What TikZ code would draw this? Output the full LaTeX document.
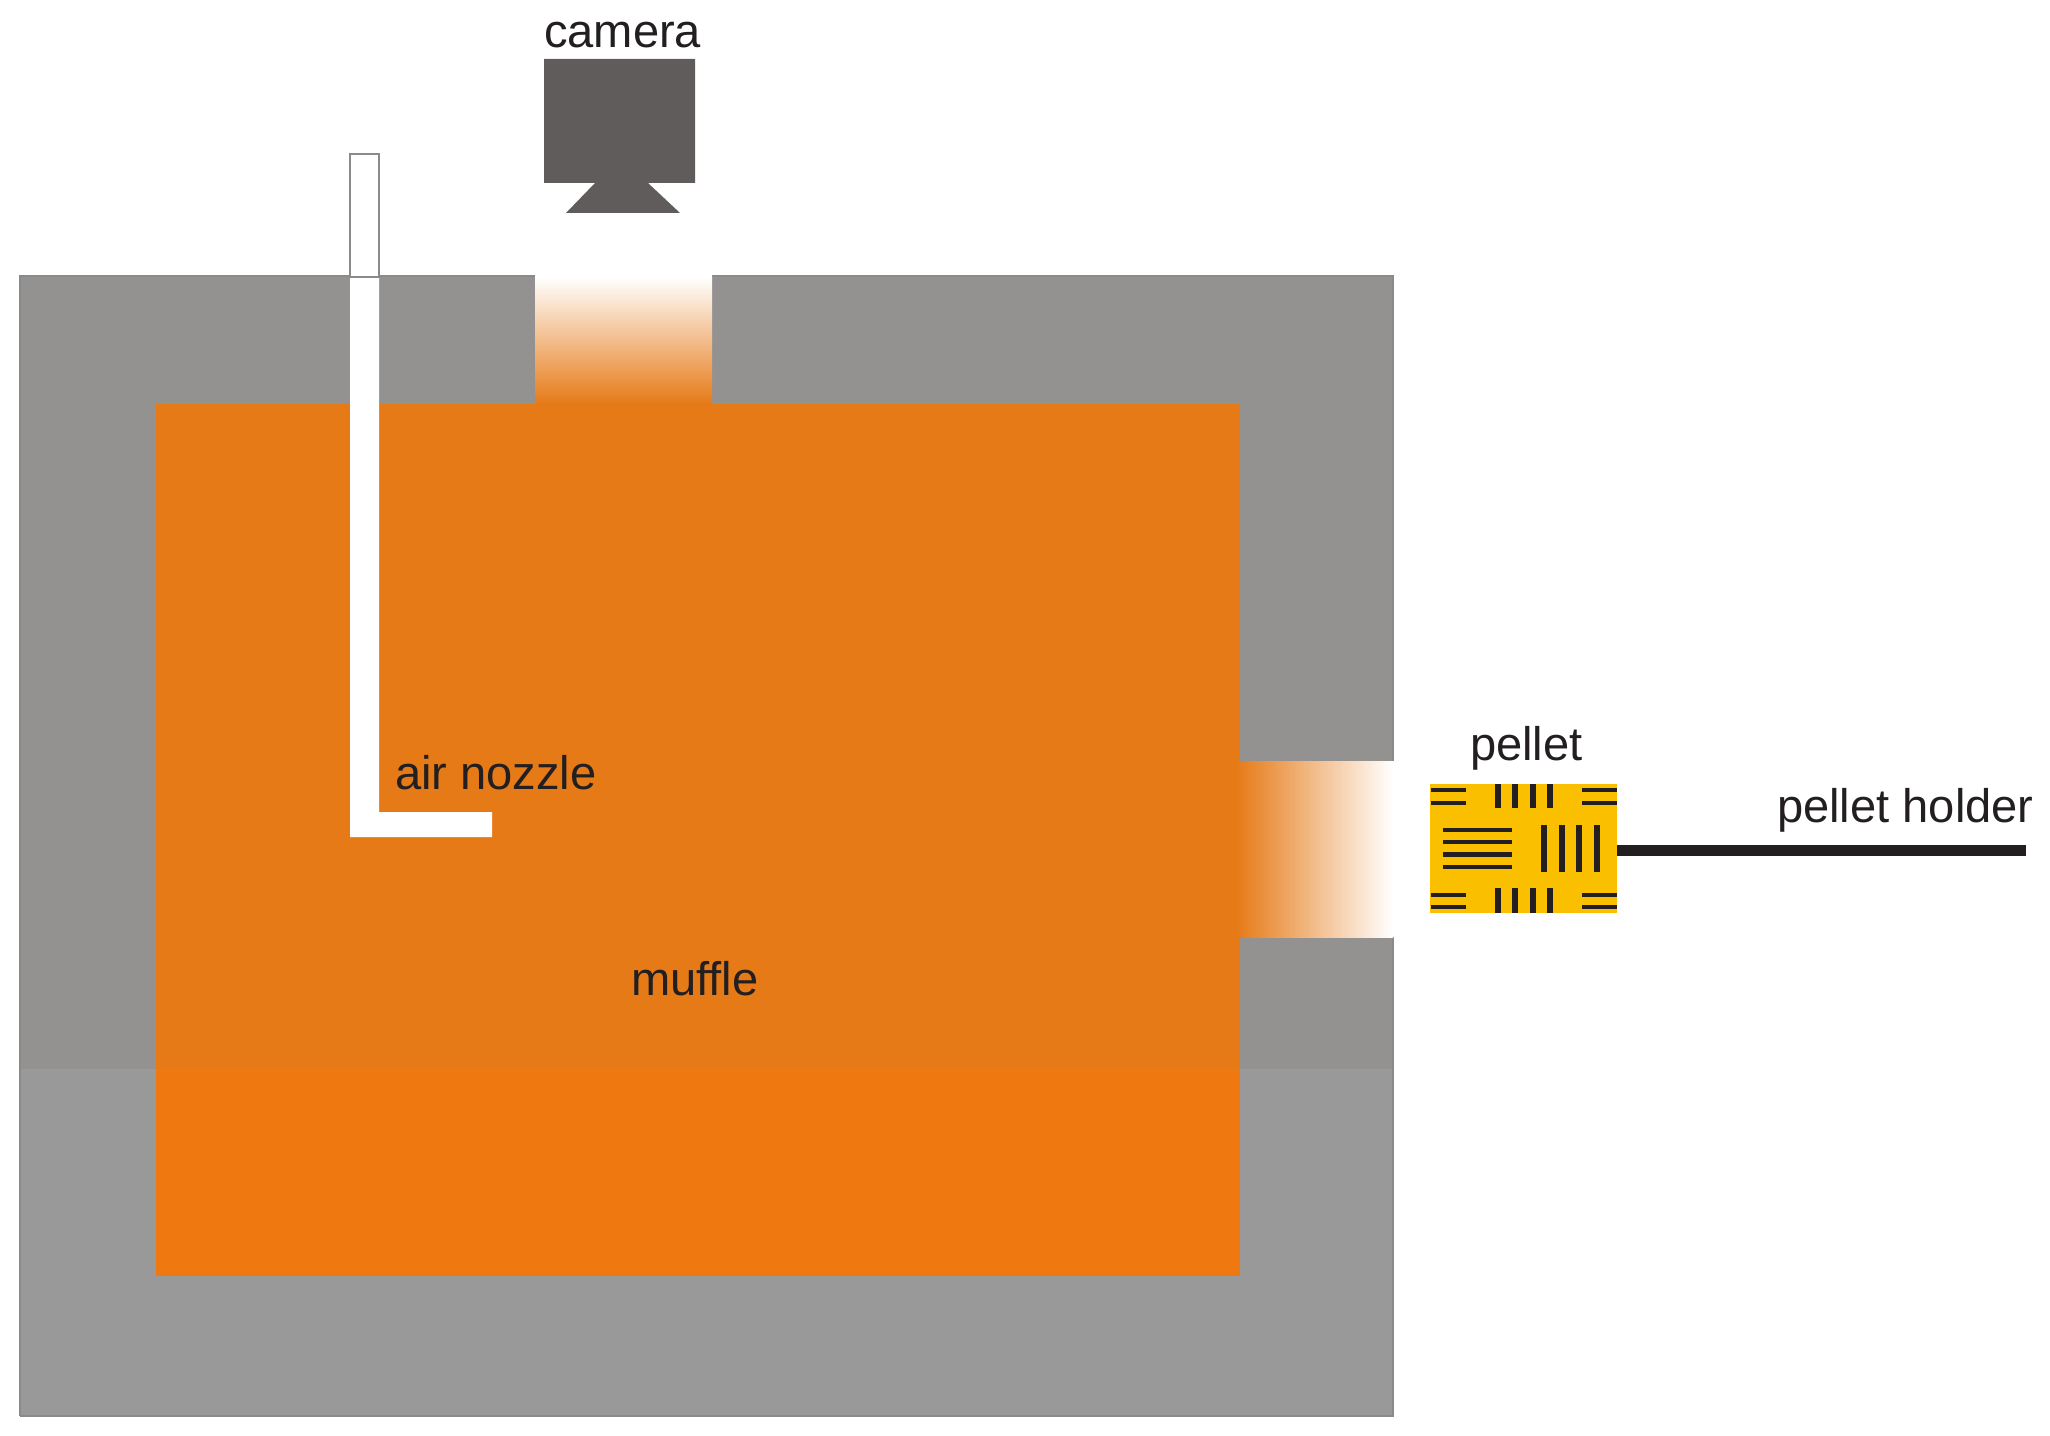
\documentclass[tikz,border=0pt]{standalone}
\usepackage{fontspec}
\setmainfont{Liberation Sans}
\definecolor{wallup}{HTML}{939291}
\definecolor{walllow}{HTML}{999999}
\definecolor{fireup}{HTML}{E67A17}
\definecolor{firelow}{HTML}{F07810}
\definecolor{camgrey}{HTML}{5F5C5B}
\definecolor{pelletyellow}{HTML}{FAC000}
\definecolor{inkdark}{HTML}{231F20}
\definecolor{nozzleedge}{HTML}{8A8A8A}
\tikzset{
  x=0.05cm,y=-0.05cm,
  lbl/.style={inner sep=0pt,anchor=base west,text=inkdark,font=\fontsize{67}{71}\selectfont},
  vbar/.style={inkdark,line width=0.29cm},
  hbar/.style={inkdark,line width=0.21cm},
  pelletbox/.style={fill=pelletyellow,inner sep=0pt,minimum width=9.35cm,minimum height=6.45cm},
  holderline/.style={draw=inkdark,line width=0.56cm},
}
\begin{document}
\begin{tikzpicture}
\useasboundingbox (0,0) rectangle (2050,1436);
% furnace wall
\fill[wallup] (20,276) rectangle (1393,1069);
\fill[walllow] (20,1069) rectangle (1393,1416);
\draw[nozzleedge,line width=0.08cm] (20,1416) -- (20,276) -- (535,276);
\draw[nozzleedge,line width=0.08cm] (712,276) -- (1393,276) -- (1393,761);
\draw[nozzleedge,line width=0.08cm] (1393,937) -- (1393,1416) -- (20,1416);
% muffle
\fill[fireup] (156,404) rectangle (1240,1069);
\fill[firelow] (156,1069) rectangle (1240,1276);
% openings
\fill[white] (535,270) rectangle (712,277);
\shade[top color=white,bottom color=fireup] (535,277) rectangle (712,404);
\shade[left color=fireup,right color=white] (1236,761) rectangle (1393,937);
\fill[white] (1392.5,761) rectangle (1394,937);
% air nozzle
\fill[white] (350,277) -- (379,277) -- (379,812) -- (492,812) -- (492,837) -- (350,837) -- cycle;
\draw[nozzleedge,line width=0.1cm,fill=white] (350,277) -- (350,154) -- (379,154) -- (379,277) -- cycle;
% camera
\fill[camgrey] (544,59) -- (695,59) -- (695,183) -- (648,183) -- (680,213) -- (566,213) -- (595,183) -- (544,183) -- cycle;
% pellet
\node[pelletbox] (pellet) at (1523.5,848.5) {};
\coordinate (holderend) at (2026,850.5);
\draw[holderline] (pellet.east |- holderend) -- (holderend);
\foreach \yy in {790,803,895,907} {
  \draw[hbar] (1431,\yy) -- (1466,\yy);
  \draw[hbar] (1582,\yy) -- (1617,\yy);
}
\foreach \xx in {1498,1515,1533,1550} {
  \draw[vbar] (\xx,784) -- (\xx,808);
  \draw[vbar] (\xx,888) -- (\xx,913);
}
\foreach \yy in {830,842,854.5,867}
  \draw[hbar] (1443,\yy) -- (1512,\yy);
\foreach \xx in {1544,1562,1579,1597}
  \draw[vbar] (\xx,825) -- (\xx,872);
% labels
\node[lbl] (cameralabel) at (544,48) {camera};
\node[lbl] (nozzlelabel) at (395,789) {air nozzle};
\node[lbl] (mufflelabel) at (631,995) {muffle};
\node[lbl] (pelletlabel) at (1470,760) {pellet};
\node[lbl] (holderlabel) at (1777,822) {pellet holder};
\end{tikzpicture}
\end{document}
